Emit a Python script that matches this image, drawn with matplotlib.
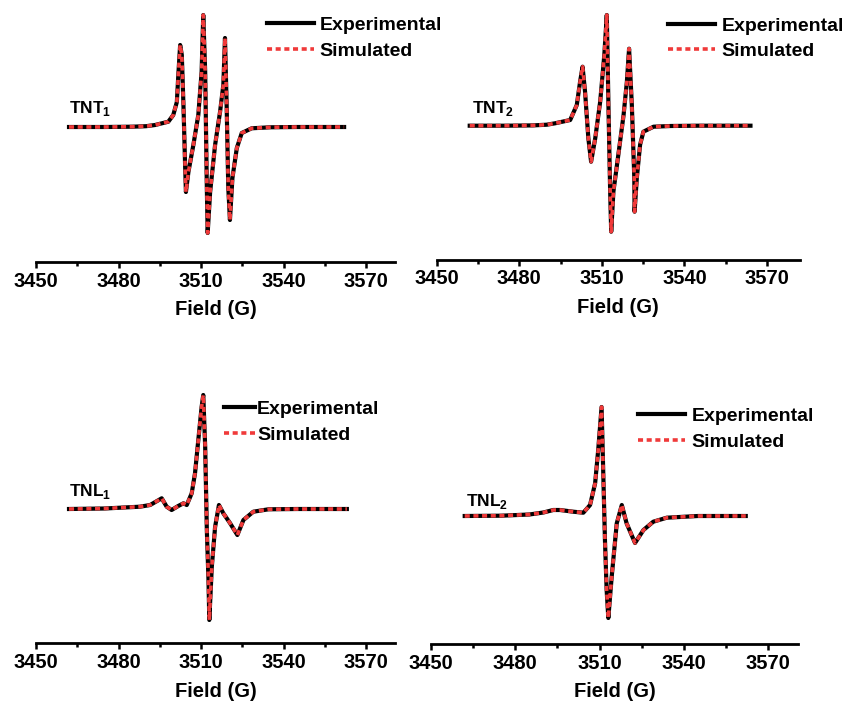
import numpy as np
import matplotlib
matplotlib.use("Agg")
import matplotlib.pyplot as plt
from matplotlib.ticker import MultipleLocator

# =========================================================
# DATA (field in G, intensity in arbitrary units)
# =========================================================
field_tnt1 = [3462, 3475, 3485, 3490, 3493.3, 3498.1, 3499.9, 3501.2, 3501.8, 3502.4,
              3503.0, 3503.6, 3504.2, 3504.5, 3505.4, 3507.2, 3509.0, 3510.2, 3510.8,
              3511.5, 3512.1, 3512.4, 3513.3, 3515.1, 3516.9, 3518.1, 3518.7, 3519.3,
              3519.9, 3520.5, 3521.4, 3523.0, 3524.8, 3528.4, 3535, 3545, 3562]
exp_tnt1 = [0, 0, 0.3, 0.8, 2, 5.3, 12, 25, 55, 82,
            72, 22, -38, -65, -45, -18, 12, 55, 112,
            55, -61, -106, -65, -18, 15, 42, 89, 22,
            -61, -93, -51, -21, -6, -1.3, -0.3, 0, 0]
sim_tnt1 = exp_tnt1

field_tnt2 = [3462, 3475, 3485, 3490, 3493, 3498.5, 3500.9, 3502.1, 3503.0, 3503.9,
              3505.1, 3506.1, 3507.6, 3509.4, 3510.9, 3511.8, 3512.4, 3513.0, 3513.4,
              3514.2, 3516.0, 3517.9, 3519.1, 3519.9, 3520.9, 3521.8, 3521.9, 3522.7,
              3523.9, 3525.1, 3528.8, 3535, 3545, 3564]
exp_tnt2 = [0, 0, 0.3, 1, 2.4, 5.7, 20.7, 44, 59, 34,
            -12.6, -36, -12.6, 24, 70.7, 110.7, 20.7, -62.6, -106,
            -66, -29, 10.7, 44, 77, 20.7, -52.6, -86, -52.6,
            -19, -6, -1, -0.3, 0, 0]
sim_tnt2 = exp_tnt2

field_tnl1 = [3462, 3475, 3482, 3487.8, 3491.5, 3495.7, 3497.5, 3499.3, 3501.7, 3503.6,
              3504.8, 3506.6, 3507.8, 3509.0, 3510.2, 3510.8, 3511.5, 3512.1, 3512.7,
              3513.0, 3513.9, 3515.1, 3516.5, 3518.1, 3520.5, 3523.2, 3525.4, 3529.0,
              3534.5, 3545, 3563]
exp_tnl1 = [0, 0.5, 1.5, 2.3, 4, 10.7, 2.3, -1, 3, 5.7,
            4, 15.7, 35.7, 69, 102, 114, 62, -21, -71,
            -111, -58, -18, 4, -4.3, -14, -26, -11, -2.7,
            -0.3, 0, 0]
sim_tnl1 = exp_tnl1

field_tnl2 = [3462, 3475, 3485, 3490, 3493.5, 3495.9, 3500.6, 3504.2, 3506.6, 3508.4,
              3509.5, 3510.7, 3511.3, 3511.9, 3512.5, 3513.1, 3514.3, 3516.1, 3517.9,
              3519.6, 3522.6, 3525.6, 3529.1, 3533.9, 3545, 3562]
exp_tnl2 = [0, 0.3, 1.5, 3.5, 6, 6, 4.3, 3.3, 11, 32.7,
            66, 109, 42.7, -24, -74, -102, -60.7, -7.3, 11,
            -7.3, -27, -14, -5.7, -1.7, 0, 0]
sim_tnl2 = exp_tnl2

# =========================================================
# LAYOUT (pixels in the 846x703 figure)
# =========================================================
W, H = 846, 703
FONT = 'Liberation Sans'
plt.rcParams['font.family'] = FONT
plt.rcParams['font.weight'] = 'bold'
plt.rcParams['mathtext.fontset'] = 'custom'
plt.rcParams['mathtext.rm'] = FONT + ':bold'
plt.rcParams['mathtext.bf'] = FONT + ':bold'

fig = plt.figure(figsize=(W / 100, H / 100), dpi=100)


def make_panel(left, right, top, bottom, xmax, ylim):
    ax = fig.add_axes([left / W, 1 - bottom / H, (right - left) / W, (bottom - top) / H])
    ax.set_xlim(3450, xmax)
    ax.set_ylim(*ylim)
    for s in ['top', 'right', 'left']:
        ax.spines[s].set_visible(False)
    ax.spines['bottom'].set_linewidth(2.0)
    ax.set_yticks([])
    ax.xaxis.set_major_locator(MultipleLocator(30))
    ax.xaxis.set_minor_locator(MultipleLocator(15))
    ax.tick_params(axis='x', which='major', direction='out', length=4.5, width=1.8,
                   labelsize=14.5, pad=2.5)
    ax.tick_params(axis='x', which='minor', direction='out', length=3, width=1.8)
    for lab in ax.get_xticklabels():
        lab.set_fontweight('bold')
    ax.set_xlabel('Field (G)', fontsize=14.5, fontweight='bold', labelpad=7)
    ax.patch.set_alpha(0)
    return ax


def draw(ax, x, y_exp, y_sim, leg_x, leg_y, hlen, hpad, name, name_x, name_y):
    ax.plot(x, y_exp, color='black', lw=3.0, solid_joinstyle='round', label='Experimental')
    ax.plot(x, y_sim, color='#f03a3a', lw=2.6, dashes=(1.4, 1.0), label='Simulated')
    ax.legend(loc='center left', bbox_to_anchor=(leg_x / W, 1 - leg_y / H),
              bbox_transform=fig.transFigure, frameon=False,
              handlelength=hlen, handletextpad=hpad, labelspacing=0.4,
              borderpad=0, borderaxespad=0,
              prop={'family': FONT, 'weight': 'bold', 'size': 14})
    fig.text(name_x / W, 1 - name_y / H, name, fontsize=12.5, fontweight='bold',
             va='baseline', ha='left')


ax1 = make_panel(36, 395, 5, 262, 3580.5, (-135, 122))
ax2 = make_panel(436.7, 800, 5, 259.5, 3582, (-133.8, 120.7))
ax3 = make_panel(36, 395, 380, 643.3, 3580.5, (-134.3, 129))
ax4 = make_panel(431, 798.3, 380, 644, 3580.7, (-128, 136))

draw(ax1, field_tnt1, exp_tnt1, sim_tnt1, 267, 38, 2.4, 0.3, r'TNT$_{1}$', 69, 113)
draw(ax2, field_tnt2, exp_tnt2, sim_tnt2, 668, 38.5, 2.4, 0.35, r'TNT$_{2}$', 472, 113)
draw(ax3, field_tnl1, exp_tnl1, sim_tnl1, 224, 422, 1.6, 0.1, r'TNL$_{1}$', 69, 496)
draw(ax4, field_tnl2, exp_tnl2, sim_tnl2, 638, 429, 2.4, 0.35, r'TNL$_{2}$', 466, 506)

fig.savefig('out.png', dpi=100)
